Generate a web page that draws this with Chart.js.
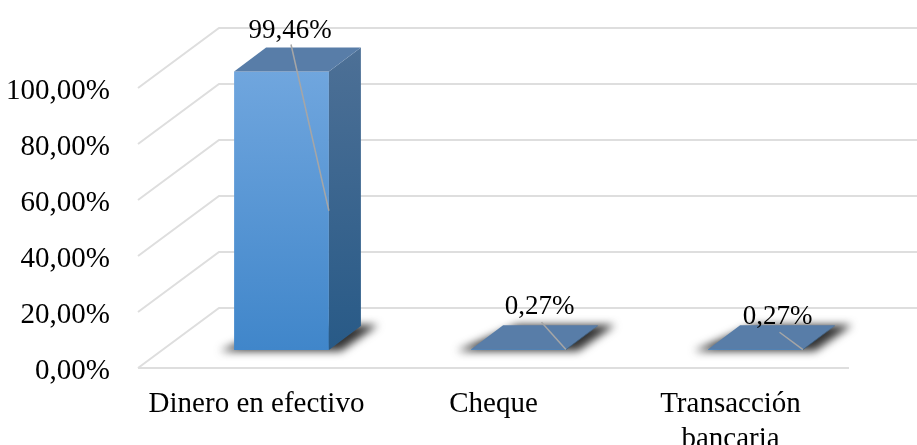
<!DOCTYPE html>
<html>
<head>
<meta charset="utf-8">
<script src="https://cdn.jsdelivr.net/npm/chart.js@4"></script>
<style>
  html, body { margin: 0; padding: 0; background: #fff; overflow: hidden; }
  #wrap { width: 917px; height: 445px; overflow: hidden; }
</style>
</head>
<body>
<div id="wrap"><canvas id="myChart" width="917" height="480"></canvas></div>
<script>
const categorias = ['Dinero en efectivo', 'Cheque', ['Transacción', 'bancaria']];
const valores = [99.46, 0.27, 0.27];
const etiquetas = ['99,46%', '0,27%', '0,27%'];
const ticksY = ['0,00%', '20,00%', '40,00%', '60,00%', '80,00%', '100,00%'];

const fuente = '"Liberation Serif", "Times New Roman", serif';

// falso 3D: desplazamientos en pixeles
const fondoX = 81, fondoY = 60;      // profundidad del piso
const barraX = 25, barraY = 21;      // la barra va a media profundidad
const ladoX = 32, ladoY = 24;        // profundidad de la barra
const rejillaY = 3;                  // los textos del eje van un poco mas abajo que la rejilla

// respecto a la barra: etiqueta dx, dy y arranque de la guia dx, dy
const offsets = [
  [8.5, -41, 9.5, -27],
  [21, -42, 23, -27],
  [22, -32, 24, -17]
];

const plugin3d = {
  id: 'falso3d',
  beforeDatasetsDraw(chart) {
    const c = chart.ctx, y = chart.scales.y, a = chart.chartArea;
    // rejilla
    c.save();
    c.strokeStyle = '#dedede';
    c.lineWidth = 2;
    y.ticks.forEach(t => {
      const py = y.getPixelForValue(t.value) - rejillaY;
      c.beginPath();
      c.moveTo(a.left, py);
      c.lineTo(a.left + fondoX, py - fondoY);
      c.lineTo(chart.width, py - fondoY);
      c.stroke();
    });
    const p0 = y.getPixelForValue(0) - rejillaY;
    c.beginPath();
    c.moveTo(a.left, p0);
    c.lineTo(a.right, p0);
    c.stroke();
    c.restore();

    // todo lo de la barra va movido a media profundidad
    c.save();
    c.translate(barraX, -barraY);
    chart.getDatasetMeta(0).data.forEach(b => {
      const x0 = b.x - b.width / 2, x1 = b.x + b.width / 2;
      // sombra difuminada, mas ancha que la base
      c.save();
      c.filter = 'blur(4px)';
      c.fillStyle = '#333';
      c.beginPath();
      c.moveTo(x0 - 14, b.base + 1);
      c.lineTo(x1 + 12, b.base + 1);
      c.lineTo(x1 + ladoX + 17, b.base - ladoY - 1);
      c.lineTo(x0 + ladoX + 14, b.base - ladoY - 1);
      c.closePath();
      c.fill();
      c.restore();
    });
  },
  afterDatasetsDraw(chart) {
    const c = chart.ctx;
    const meta = chart.getDatasetMeta(0).data;
    meta.forEach(b => {
      const x1 = b.x + b.width / 2, x0 = b.x - b.width / 2;
      // lado derecho
      const g = c.createLinearGradient(0, b.y - ladoY, 0, b.base);
      g.addColorStop(0, '#4d7096');
      g.addColorStop(1, '#285a87');
      c.fillStyle = g;
      c.beginPath();
      c.moveTo(x1, b.y);
      c.lineTo(x1 + ladoX, b.y - ladoY);
      c.lineTo(x1 + ladoX, b.base - ladoY);
      c.lineTo(x1, b.base);
      c.closePath();
      c.fill();
      // tapa
      c.fillStyle = '#587da8';
      c.beginPath();
      c.moveTo(x0, b.y);
      c.lineTo(x1, b.y);
      c.lineTo(x1 + ladoX, b.y - ladoY);
      c.lineTo(x0 + ladoX, b.y - ladoY);
      c.closePath();
      c.fill();
    });
    // guias y etiquetas
    meta.forEach((b, i) => {
      const o = offsets[i];
      c.strokeStyle = '#a6a6a6';
      c.lineWidth = 1.5;
      c.beginPath();
      c.moveTo(b.x + o[2], b.y + o[3]);
      c.lineTo(b.x + b.width / 2, (b.y + b.base) / 2);
      c.stroke();
      c.fillStyle = '#000';
      c.font = '27px ' + fuente;
      c.textAlign = 'center';
      c.textBaseline = 'middle';
      c.fillText(etiquetas[i], b.x + o[0], b.y + o[1]);
    });
    c.restore();
  }
};

const myChart = new Chart(document.getElementById('myChart'), {
  type: 'bar',
  data: {
    labels: categorias,
    datasets: [{
      data: valores,
      categoryPercentage: 0.4,
      barPercentage: 1,
      clip: false,
      backgroundColor(ctx) {
        const y = ctx.chart.scales.y;
        const arriba = y && y.getPixelForValue(100), abajo = y && y.getPixelForValue(0);
        if (!isFinite(arriba) || !isFinite(abajo)) return '#5b9bd5';
        const g = ctx.chart.ctx.createLinearGradient(0, arriba, 0, abajo);
        g.addColorStop(0, '#70a6de');
        g.addColorStop(1, '#4086ca');
        return g;
      }
    }]
  },
  options: {
    responsive: false,
    animation: false,
    layout: { padding: { top: 91, right: 68, left: 0, bottom: 0 } },
    plugins: { legend: { display: false }, tooltip: { enabled: false } },
    scales: {
      x: {
        grid: { display: false },
        border: { display: false },
        ticks: { color: '#000', font: { family: fuente, size: 29, lineHeight: 1.2 }, padding: 8, maxRotation: 0, autoSkip: false },
        afterFit(s) { s.height = 109; }
      },
      y: {
        min: 0,
        max: 100,
        grid: { display: false },
        border: { display: false },
        ticks: {
          stepSize: 20,
          color: '#000',
          font: { family: fuente, size: 29 },
          padding: 20,
          callback(v) { return ticksY[v / 20]; }
        },
        afterFit(s) { s.width = 138; }
      }
    }
  },
  plugins: [plugin3d]
});
</script>
</body>
</html>
